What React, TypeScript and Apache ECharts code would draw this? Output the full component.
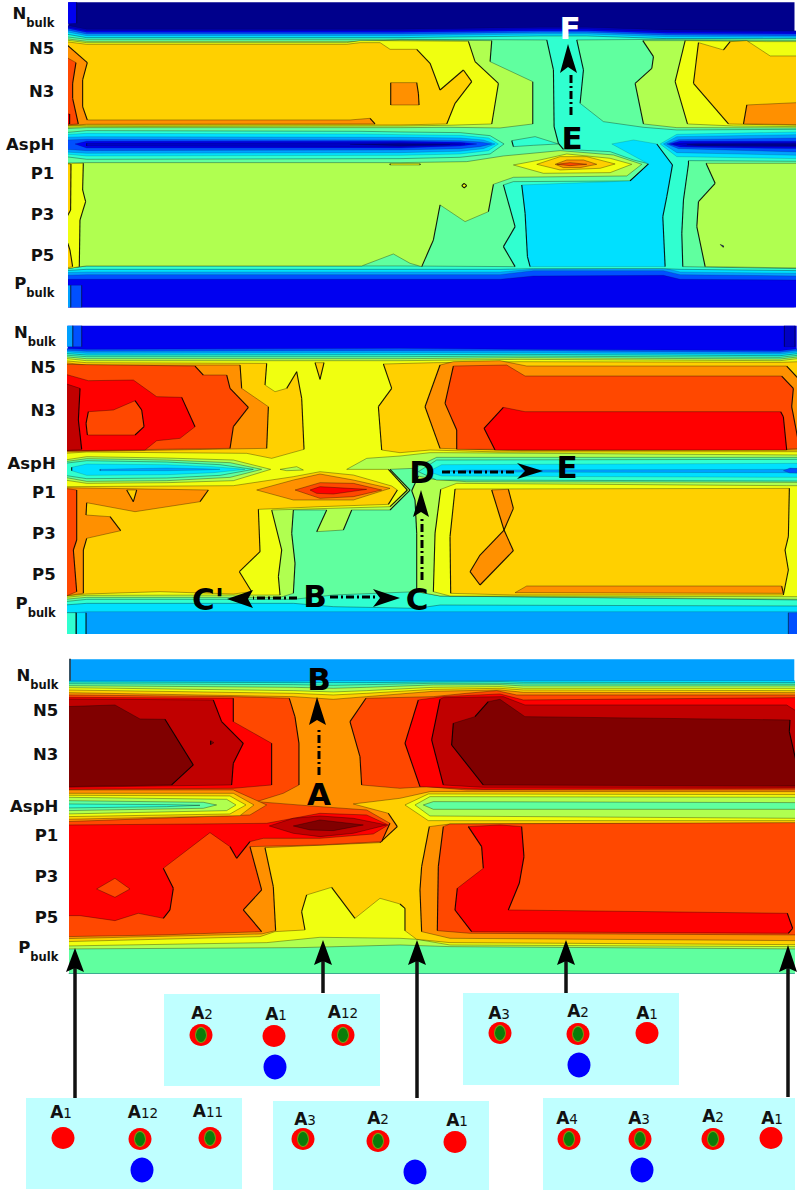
import React, { useEffect, useRef } from "react";
import * as echarts from "echarts";

const FONT = "'DejaVu Sans', sans-serif";
// contour colour of each level, low to high
const LEVEL = ["#00008c","#0000c4","#0000f0","#0050ff","#00a0ff","#00e0ff","#30ffd0","#60ff9f","#b0ff50","#f0ff10","#ffd000","#ff9000","#ff4800","#ff0000","#c00000","#800000"];

// y-axis tick positions and names of the three panels
const topTicks: [number,string][] = [[50,"Nbulk"],[147,"N5"],[275,"N3"],[433,"AspH"],[520,"P1"],[643,"P3"],[767,"P5"],[862,"Pbulk"]];
const midTicks: [number,string][] = [[48,"Nbulk"],[143,"N5"],[272,"N3"],[430,"AspH"],[518,"P1"],[640,"P3"],[763,"P5"],[860,"Pbulk"]];
const lowTicks: [number,string][] = [[88,"Nbulk"],[183,"N5"],[315,"N3"],[470,"AspH"],[557,"P1"],[680,"P3"],[803,"P5"],[902,"Pbulk"]];

// horizontal contour bands: [level, y at each x]
const topBandTopX = [205,260,1200,1620,1760,2000,2383];
const topBandTop = [
  [1,75,88,88,82,82,90,92],[2,80,92,92,87,87,95,97],[3,84,97,97,92,92,100,102],
  [4,89,102,102,97,97,105,107],[5,95,107,107,102,102,110,112],[6,102,113,113,108,108,116,118],
];
const topBandBotX = [205,260,1500,1600,1990,2040,2383];
const topBandBot = [
  [3,838,838,838,828,826,838,840],[4,826,824,824,812,812,824,828],
  [5,818,816,816,808,804,816,820],[6,812,808,808,806,806,808,812],
];
const midBandTopX = [203,260,1200,1560,2340,2390];
const midBandTop = [
  [3,85,88,85,88,92,85],[4,90,94,92,92,97,90],[5,95,100,98,98,102,95],
  [6,100,105,104,103,107,100],[7,105,110,110,108,112,105],
];
const midBandBotX = [203,260,880,1000,1250,1320,2390];
const midBandBot = [
  [5,880,875,875,875,875,875,875],[6,855,850,850,860,865,855,858],[7,845,838,838,825,815,828,840],
];
const lowBandTopX = [208,880,1000,1100,1300,1500,1570,2383];
const lowBandTop = [
  [5,92,94,92,92,92,92,92,92],[6,96,98,98,98,96,95,97,98],[7,101,104,106,104,100,100,102,103],
  [8,107,112,115,112,105,104,108,108],
];
const lowBandBotX = [208,900,1200,1350,2383];
const lowBandBot = [[8,897,893,885,890,897]];

// contour regions, painted in order: [level, x,y, x,y, ...]
const topRegions = [
  [2,205,7,230,7,230,70,205,72],
  [3,212,856,245,856,245,922,212,922],[4,205,856,212,856,212,922,205,922],
  [7,205,110,260,118,1200,118,1640,120,1660,210,1662,380,1675,430,1690,448,1830,455,1900,480,1948,492,1890,543,1540,545,1510,555,1545,680,1510,740,1545,800,1200,798,260,798,205,806],
  [7,1730,120,1750,210,1740,310,1810,365,1930,382,2030,390,2383,388,2383,116,2000,118],
  [7,2065,492,2050,600,2045,700,2048,800,2383,806,2383,484,2065,482],
  [8,205,490,260,488,1200,488,1400,485,1510,468,1680,452,1840,465,1925,493,1880,528,1540,532,1480,553,1465,635,1395,665,1320,615,1300,720,1265,800,1230,790,1180,762,1085,798,260,798,205,806],
  [8,205,116,260,124,1080,124,1200,120,1475,122,1470,185,1598,245,1598,372,1500,384,1350,382,1200,383,260,383,205,386],
  [8,1928,122,1960,170,1955,205,1905,250,1930,372,2030,383,2383,384,2383,122],
  [8,2120,495,2145,550,2095,605,2090,680,2115,800,2383,804,2383,490,2118,490],
  [9,205,120,260,128,1040,128,1080,122,1140,122,1405,124,1425,185,1495,250,1475,372,1340,376,1200,378,260,380,205,382],
  [9,2055,122,2025,245,2062,372,2200,378,2383,380,2383,125,2300,125],
  [9,205,490,250,490,248,570,257,605,240,660,238,800,205,808],
  [9,1170,491,1260,491,1260,495,1170,495],
  [9,1385,557,1392,550,1400,557,1392,564],
  [10,205,125,260,133,1040,133,1080,128,1140,128,1170,148,1250,148,1290,190,1320,270,1390,210,1415,245,1365,310,1340,372,1200,375,260,376,205,378],
  [10,2095,128,2170,150,2190,125,2240,122,2310,168,2383,168,2383,376,2185,372,2080,250],
  [10,205,492,213,492,212,630,205,660],[10,205,708,210,750,218,800,205,805],
  [11,205,130,262,188,248,240,248,320,262,360,1050,360,1110,355,1125,372,260,373,205,377],
  [11,1172,248,1250,248,1255,280,1257,315,1172,315],
  [11,2240,315,2230,372,2383,374,2383,308],
  [12,205,170,228,188,218,250,218,295,235,372,205,375],
  [13,205,342,209,342,209,372,205,372],
  [9,1540,495,1620,480,1700,462,1830,475,1895,493,1830,518,1630,520],
  [10,1610,493,1680,470,1760,470,1845,492,1800,505,1680,510],
  [11,1665,493,1700,480,1750,480,1790,493,1740,503,1690,503],
  [12,1670,493,1710,488,1760,493,1710,497],
  [5,1565,555,1575,640,1582,770,1590,800,1995,800,1988,650,2000,590,2017,495,1970,432,1900,420,1835,432,1945,492,1890,543],
  [6,1535,422,1605,410,1675,432,1600,436,1540,440],
  [6,205,398,260,392,1080,394,1200,396,1380,398,1470,407,1512,432,1470,462,1380,472,1200,476,260,478,205,470],
  [5,205,404,260,400,1080,402,1200,404,1380,406,1465,414,1495,432,1465,452,1380,462,1200,466,260,468,205,462],
  [4,205,412,260,410,1200,412,1380,414,1450,420,1485,432,1450,446,1380,454,1200,458,260,460,205,456],
  [3,205,420,260,418,1200,420,1380,422,1440,426,1475,432,1440,440,1380,446,1200,450,260,452,205,448],
  [2,225,432,260,424,1200,424,1380,427,1430,432,1380,438,1200,444,260,444],
  [1,260,430,1200,428,1340,430,1395,432,1340,436,1200,440,260,438],
  [0,1050,433,1200,431,1350,434,1200,437],
  [5,1980,432,2030,403,2383,396,2383,476,2030,470],
  [4,1990,432,2030,410,2383,404,2383,466,2030,458],
  [3,2000,432,2035,419,2383,414,2383,456,2035,446],
  [2,2008,432,2040,424,2383,424,2383,446,2040,441],
  [1,2020,432,2060,429,2383,428,2383,441,2060,438],
  [0,2060,434,2100,432,2383,431,2383,438,2100,437],
  [0,2160,733,2170,737,2170,742],
];
const midRegions = [
  [3,218,17,245,17,245,80,218,80],[4,203,17,218,17,218,80,203,80],
  [1,2353,17,2385,17,2385,80,2353,80],
  [5,228,878,258,878,258,942,228,942],[6,203,878,228,878,228,942,203,942],
  [3,2365,878,2390,878,2390,942,2365,942],
  [8,203,110,260,116,1200,116,1560,113,2340,117,2390,110,2390,412,1310,412,1240,445,1170,448,1230,510,1170,570,1055,570,1030,630,950,635,980,570,880,570,875,640,885,730,880,820,840,832,260,832,203,838],
  [8,1250,815,1250,640,1245,540,1235,512,1255,468,1300,478,1400,485,2390,487,2390,838,1320,828],
  [9,203,115,260,122,1200,122,1560,118,2340,122,2390,115,2390,405,1330,398,1290,398,1200,408,1100,415,1040,448,1165,448,1222,510,1170,560,815,570,845,690,835,770,840,825,260,826,203,832],
  [8,840,448,890,440,910,450,860,452],
  [9,1322,508,1305,640,1300,815,1350,828,2390,830,2390,497,2360,497,1370,490],
  [10,203,122,260,128,800,130,795,195,825,215,860,205,890,155,905,235,912,388,815,415,740,400,260,396,203,400],
  [10,1150,132,1175,205,1135,260,1145,390,1200,398,1290,390,1500,396,2390,395,2390,125,2340,127,1560,125,1300,128],
  [10,945,128,960,178,972,128],
  [10,203,500,700,497,880,470,960,455,1060,465,1175,498,1192,510,1165,553,960,560,775,568,780,695,718,755,755,815,700,822,480,815,260,822,203,828],
  [10,1365,507,1350,650,1352,820,1540,825,2350,825,2365,750,2355,690,2365,650,2368,505],
  [11,203,128,260,135,720,135,725,205,805,260,800,385,400,392,203,395],
  [11,203,503,625,510,600,545,405,575,260,548,258,585,330,590,362,632,260,655,250,690,250,820,203,828],
  [10,380,510,400,545,410,510],
  [11,1320,135,1275,260,1320,385,1560,392,2390,390,2390,180,2360,138,1580,138,1500,122,1360,125],
  [11,1475,510,1525,508,1540,565,1512,630],
  [11,1512,630,1540,692,1440,795,1410,755,1440,705],
  [11,1545,818,1580,798,2345,798,2350,820],
  [12,203,133,585,138,610,165,680,165,690,205,745,262,700,320,690,385,203,392],
  [12,203,505,230,510,230,660,220,690,230,815,203,830],
  [12,1360,138,1335,250,1370,330,1370,388,2360,388,2390,385,2375,260,2380,205,2345,168,1575,168,1520,135],
  [13,203,162,265,182,400,180,470,230,545,232,585,320,540,355,470,362,435,390,203,392],
  [12,265,275,340,270,405,242,425,270,432,320,405,345,262,345,258,310],
  [14,203,190,240,205,235,300,245,388,203,392],
  [13,1510,262,1452,325,1485,390,2360,390,2350,290,2342,275,1575,275],
  [11,770,510,880,480,960,462,1060,480,1170,505,1060,540,880,540],
  [12,885,510,960,488,1060,490,1145,510,1060,530,960,535],
  [13,930,510,960,500,1100,508,1000,522,950,520],
  [8,203,420,260,410,500,414,700,420,812,448,700,482,500,488,260,490,203,480],
  [7,203,425,260,416,500,420,690,428,785,448,690,472,500,482,260,484,203,472],
  [6,203,430,260,422,500,426,660,434,760,448,660,466,500,474,260,476,203,466],
  [5,215,442,260,432,500,434,640,440,735,448,640,458,500,464,260,466,215,452],
  [4,300,448,500,444,610,446,660,448,610,450,500,452,300,452],
  [6,1255,455,1310,420,2390,418,2390,483,1310,480],
  [5,1285,455,1325,434,2390,430,2390,472,1325,468],
  [4,1340,453,1400,450,2360,448,2390,444,2390,460,2360,458,1400,456],
  [3,2350,452,2370,444,2390,446,2390,458,2370,459],
];
const lowRegions = [
  [9,205,113,880,122,1000,126,1100,122,1300,112,1500,110,1570,115,2383,115,2383,890,1350,885,1250,868,1200,865,960,862,800,878,205,888],
  [10,205,120,880,130,1000,135,1100,130,1300,118,1500,115,1570,120,2383,122,2383,884,1350,878,1250,868,1215,842,1215,775,1200,762,1140,745,1065,805,995,712,920,735,905,785,915,840,825,845,780,860,205,875],
  [11,205,128,880,140,1000,148,1100,140,1300,124,1500,120,1570,127,2383,128,2383,425,1290,425,1200,445,1060,462,1165,490,1192,530,1140,578,795,593,820,710,827,842,785,852,205,866],
  [11,1288,530,1265,650,1260,720,1265,845,1350,865,2383,872,2383,520,1350,522],
  [12,205,135,700,140,868,145,885,200,897,280,897,405,850,430,770,455,960,470,1100,480,1170,520,1145,575,960,585,750,590,785,720,730,780,785,845,480,855,205,860],
  [12,1330,530,1315,650,1312,842,1410,850,2383,855,2383,518,1350,522],
  [12,1098,145,1050,215,1080,320,1085,405,1200,415,1280,410,1400,420,2383,420,2383,135,1550,135,1490,122,1400,130,1300,140],
  [13,205,525,600,522,800,520,960,490,1100,495,1165,525,1120,552,960,565,790,565,750,575,710,625,690,590,630,548,490,655,520,715,510,780,490,805,415,790,345,812,240,797,205,797],
  [12,290,717,345,685,390,717,345,742],
  [13,1405,530,1445,590,1450,655,1372,715,1365,780,1415,845,2365,850,2378,835,2362,790,1525,780,1558,700,1572,620,1565,530,1500,525],
  [13,205,142,700,145,700,215,815,280,815,405,700,415,205,418],
  [13,1255,150,1215,280,1260,410,1450,418,2383,415,2383,143,1570,150,1500,132,1330,140],
  [14,205,147,640,150,665,215,730,280,700,340,695,405,205,412],
  [14,1320,148,1295,270,1330,405,1450,412,2383,412,2383,185,2360,165,1575,165,1510,140,1330,143],
  [15,205,170,345,165,420,207,495,208,580,345,515,405,205,410],
  [15,1360,220,1355,285,1450,405,2383,408,2380,350,2368,245,2370,210,1575,200,1500,148,1465,155,1425,200],
  [15,632,272,642,278,632,284],
  [14,808,528,880,505,960,498,1060,505,1160,525,1060,550,960,560,880,550],
  [15,880,528,960,510,1090,525,1000,542,930,540],
  [11,205,420,700,420,800,465,750,495,205,515],
  [10,205,430,700,430,762,465,720,497,205,508],
  [9,205,436,690,438,738,465,690,492,205,500],
  [8,205,442,680,448,708,465,680,482,205,492],
  [7,205,452,610,457,650,465,610,475,205,482],
  [6,205,462,500,464,600,466,500,470,205,474],
  [9,1215,465,1285,432,2383,434,2383,512,1285,512],
  [8,1245,465,1290,440,2383,442,2383,505,1290,498],
  [7,1270,465,1300,455,2383,458,2383,478,1300,478],
];

// overlay: cards, atoms, labels, letters and arrows, in page pixels
const cards = [[26,1098,216,91],[164,994,216,92],[273,1101,216,89],[463,993,216,92],[543,1098,252,92]];
const plainAtoms = [[63,1138],[274,1036],[455,1142],[647,1033],[771,1138]];
const ionAtoms = [[142,1170],[275,1067],[415,1172],[579,1065],[642,1170]];
const boundAtoms = [[140,1139],[210,1138],[201,1035],[343,1035],[303,1139],[378,1141],[500,1033],[578,1034],[569,1139],[640,1139],[713,1139]];
const atomLabels: [string,string,number,number][] = [
  ["A","1",61,1111],["A","12",143,1111],["A","11",208,1110],
  ["A","2",202,1012],["A","1",276,1013],["A","12",343,1011],
  ["A","3",305,1118],["A","2",378,1117],["A","1",457,1119],
  ["A","3",499,1012],["A","2",578,1010],["A","1",647,1012],
  ["A","4",567,1117],["A","3",639,1117],["A","2",713,1115],["A","1",772,1117],
];
const letters: [string,number,number,string][] = [
  ["F",570,28,"#fff"],["E",572,138,"#000"],
  ["C'",208,599,"#000"],["B",315,596,"#000"],["C",417,599,"#000"],["D",422,472,"#000"],["E",567,467,"#000"],
  ["B",319,679,"#000"],["A",319,794,"#000"],
];
const dashShafts = [
  [571,115,571,72],[297,598,253,598],[330,597,375,597],[442,472,517,472],[422,580,422,517],[319,775,319,727],
];
const dashHeads = [
  [568,44,560,73,568,67,577,73],
  [227,599,253,590,248,599,253,608],
  [400,598,373,589,380,598,373,607],
  [543,471,517,463,525,471,517,479],
  [421,490,413,517,421,512,429,517],
  [317,697,309,725,317,720,326,725],
];
const solidShafts = [[75,1098,75,965],[323,993,323,960],[417,1098,417,960],[566,993,566,960],[788,1097,788,965]];
const solidHeads = [
  [75,948,66,972,75,968,84,972],[323,940,314,965,323,961,332,965],[417,940,408,965,417,961,426,965],
  [566,940,557,965,566,961,575,965],[788,945,779,972,788,968,797,972],
];

function bandsToRegions(topX:number[], top:number[][], botX:number[], bot:number[][], yMax:number){
  return top.map(row=>{
    const lvl=row[0]; const out=[lvl];
    topX.forEach((x,i)=>out.push(x,row[i+1]));
    const b=bot.find(r=>r[0]===lvl);
    if(b){ for(let i=botX.length-1;i>=0;i--) out.push(botX[i],b[i+1]); }
    else { out.push(topX[topX.length-1],yMax,topX[0],yMax); }
    return out;
  });
}

// steep contour edges read as black lines in the reference, flat ones as faint lines
function contourSeries(idx:number, regions:number[][], ext:number[]){
  const [x0,x1,y0,y1]=ext;
  return {
    type:"custom", coordinateSystem:"cartesian2d", xAxisIndex:idx, yAxisIndex:idx, clip:true, silent:true,
    data: regions.map((_,i)=>i),
    renderItem:(p:any,api:any)=>{
      const r=regions[p.dataIndex]; const pts:number[][]=[];
      for(let i=1;i<r.length;i+=2){
        let x=r[i], y=r[i+1];
        if(x<=x0+3) x=x0-9; if(x>=x1-3) x=x1+9;
        if(y<=y0+1) y=y0-9; if(y>=y1-1) y=y1+9;
        pts.push(api.coord([x,y]));
      }
      const lvl=r[0];
      const children:any[]=[{type:"polygon",shape:{points:pts},style:{fill:LEVEL[lvl]}}];
      pts.forEach((a,i)=>{
        const b=pts[(i+1)%pts.length];
        const dx=Math.abs(a[0]-b[0]), dy=Math.abs(a[1]-b[1]);
        const steep=dy>dx*0.8;
        children.push({type:"line",shape:{x1:a[0],y1:a[1],x2:b[0],y2:b[1]},style:{
          stroke:`rgba(0,0,0,${steep?(lvl<5?0.5:0.9):(lvl<6?0.25:0.55)})`,
          lineWidth:steep?1.1:0.6,
        }});
      });
      return {type:"group",children};
    },
  };
}

export default function App(){
  const ref=useRef<HTMLDivElement>(null);
  useEffect(()=>{
    const chart=echarts.init(ref.current!,undefined,{renderer:"svg"});
    const exts=[[205,2383,7,922],[203,2390,17,942],[208,2383,28,970]];
    const boxes=[[68.3,2.3,726.2,305],[67.7,325.7,729,308.3],[69.3,659.3,725,314]];
    const bgs=[0,2,4];
    const ticks=[topTicks,midTicks,lowTicks];
    const margins=[14,12,11];
    const labelRich={
      b:{fontFamily:FONT,fontWeight:"bold",fontSize:16.5,color:"#111",lineHeight:17,verticalAlign:"top"},
      s:{fontFamily:FONT,fontWeight:"bold",fontSize:11.5,color:"#111",lineHeight:24,verticalAlign:"bottom"},
    };
    const bandRegions=[
      bandsToRegions(topBandTopX,topBandTop,topBandBotX,topBandBot,922),
      bandsToRegions(midBandTopX,midBandTop,midBandBotX,midBandBot,942),
      bandsToRegions(lowBandTopX,lowBandTop,lowBandBotX,lowBandBot,970),
    ];
    const regions=[topRegions,midRegions,lowRegions];

    const atomSeries=(data:number[][],size:number[],color:string,z:number,border?:string)=>({
      type:"scatter",xAxisIndex:3,yAxisIndex:3,data,symbol:"circle",symbolSize:size,silent:true,z,
      itemStyle:{color,opacity:1,borderColor:border,borderWidth:border?1:0},
    });

    const graphic:any[]=[];
    cards.forEach(([x,y,w,h])=>graphic.push({type:"rect",z:1,shape:{x,y,width:w,height:h},style:{fill:"#bfffff"}}));
    solidShafts.forEach(s=>graphic.push({type:"line",z:60,shape:{x1:s[0],y1:s[1],x2:s[2],y2:s[3]},style:{stroke:"#111",lineWidth:3.5}}));
    const head=(h:number[])=>({type:"polygon",z:61,shape:{points:[[h[0],h[1]],[h[2],h[3]],[h[4],h[5]],[h[6],h[7]]]},style:{fill:"#000"}});
    solidHeads.forEach(h=>graphic.push(head(h)));
    dashShafts.forEach(s=>graphic.push({type:"line",z:60,shape:{x1:s[0],y1:s[1],x2:s[2],y2:s[3]},style:{stroke:"#000",lineWidth:3,lineDash:[8,3,2,3]}}));
    dashHeads.forEach(h=>graphic.push(head(h)));
    letters.forEach(([t,x,y,c])=>graphic.push({type:"text",z:62,x,y,style:{text:t,fill:c,font:`bold 31px ${FONT}`,align:"center",verticalAlign:"middle"}}));
    atomLabels.forEach(([a,n,x,y])=>graphic.push({type:"text",z:62,x,y,style:{
      text:`{a|${a}}{n|${n}}`,align:"center",verticalAlign:"middle",
      rich:{a:{fontFamily:FONT,fontWeight:"bold",fontSize:17,fill:"#111",color:"#111",lineHeight:18,verticalAlign:"bottom"},
            n:{fontFamily:FONT,fontSize:13.5,fontWeight:500,fill:"#111",color:"#111",lineHeight:18,verticalAlign:"bottom"}},
    }}));

    chart.setOption({
      animation:false,
      backgroundColor:"#ffffff",
      grid:[
        ...boxes.map(([left,top,width,height],i)=>({left,top,width,height,show:true,backgroundColor:LEVEL[bgs[i]],borderWidth:0,containLabel:false})),
        {left:0,top:0,width:800,height:1192},
      ],
      xAxis:[
        ...exts.map((e,i)=>({gridIndex:i,type:"value",min:e[0],max:e[1],show:i===2,
          axisLine:{show:i===2,onZero:false,lineStyle:{color:"#444",width:1.2}},axisTick:{show:false},axisLabel:{show:false},splitLine:{show:false}})),
        {gridIndex:3,type:"value",min:0,max:800,show:false},
      ],
      yAxis:[
        ...exts.map((e,i)=>({
          gridIndex:i,type:"value",inverse:true,min:e[2],max:e[3],splitLine:{show:false},
          axisTick:{show:false},
          axisLine:{show:i===2,onZero:false,lineStyle:{color:"#333",width:1.5}},
          axisLabel:{
            show:true,customValues:ticks[i].map(t=>t[0]),margin:margins[i],showMinLabel:true,showMaxLabel:true,hideOverlap:false,
            formatter:(v:number)=>{
              const name=(ticks[i].find(t=>t[0]===v)||[0,""])[1] as string;
              return name.endsWith("bulk")?`{b|${name[0]}}{s|bulk}`:`{b|${name}}`;
            },
            rich:labelRich,
          },
        })),
        {gridIndex:3,type:"value",inverse:true,min:0,max:1192,show:false},
      ],
      graphic:{elements:graphic},
      series:[
        ...bandRegions.map((r,i)=>({...contourSeries(i,r,exts[i]),z:2})),
        ...regions.map((r,i)=>({...contourSeries(i,r,exts[i]),z:3})),
        atomSeries(plainAtoms,[23,22],"#ff0000",10),
        atomSeries(ionAtoms,[23,25],"#0000ff",10),
        atomSeries(boundAtoms,[23,22],"#ff0000",10),
        atomSeries(boundAtoms,[11,15],"#0a7d0a",11,"#7d9a10"),
      ],
    });
    return ()=>chart.dispose();
  },[]);
  return <div ref={ref} style={{position:"fixed",left:0,top:0,width:800,height:1192}}/>;
}
